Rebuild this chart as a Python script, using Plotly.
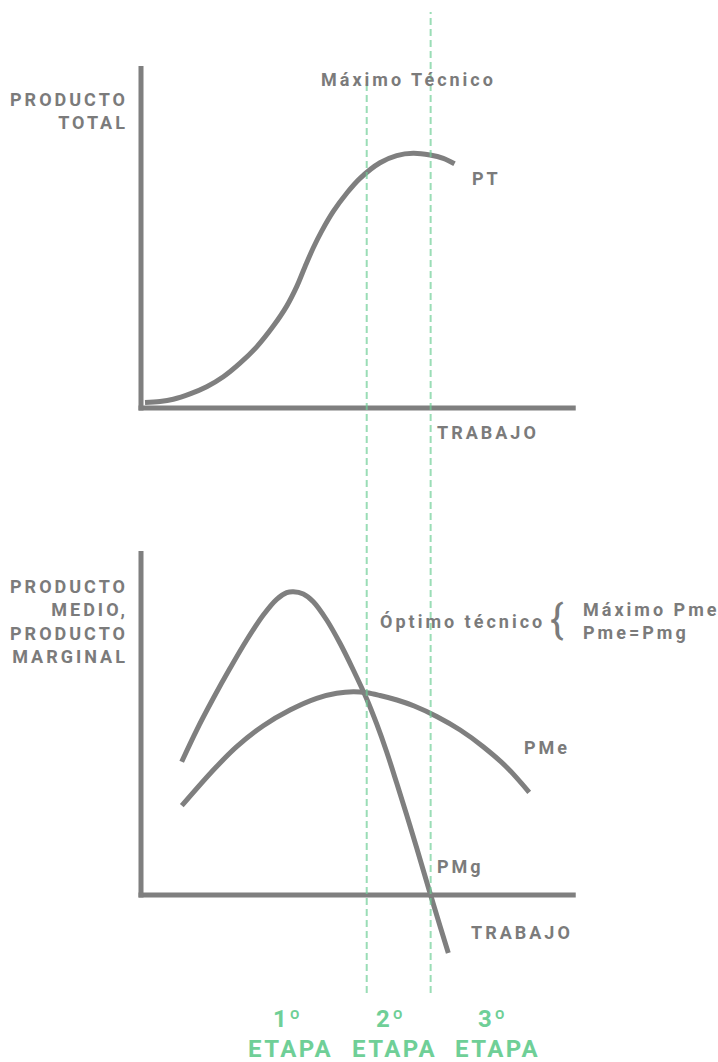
import plotly.graph_objects as go

# ---------------- data (labor units on x, product units on y) ----------------
pt_trabajo = [0.063, 0.532, 0.948, 1.471, 1.993, 2.513, 3.035, 3.558, 4.077, 4.496,
              4.809, 5.069, 5.329, 5.591, 5.954, 6.374, 6.790, 7.416, 7.938, 8.457,
              8.980, 9.396, 9.747]
pt_producto = [0.21, 0.25, 0.34, 0.55, 0.83, 1.22, 1.75, 2.39, 3.20, 3.98,
               4.74, 5.52, 6.26, 6.91, 7.68, 8.39, 8.97, 9.58, 9.86, 9.95,
               9.88, 9.75, 9.54]

pmg_trabajo = [1.211, 1.680, 2.200, 2.722, 3.245, 3.764, 4.183, 4.496, 4.703, 5.016,
               5.329, 5.748, 6.164, 6.580, 7.000, 7.312, 7.625, 7.938, 8.251, 8.564,
               8.980, 9.293, 9.553]
pmg_valor = [5.207, 6.445, 7.684, 8.855, 9.961, 10.938, 11.551, 11.809, 11.848, 11.758,
             11.457, 10.742, 9.832, 8.789, 7.656, 6.680, 5.586, 4.375, 3.125, 1.836,
             0.078, -1.211, -2.266]

pme_trabajo = [1.214, 2.253, 2.932, 3.764, 4.599, 5.435, 6.061, 6.580, 7.000, 7.416,
               7.947, 8.486, 9.205, 9.925, 10.645, 11.364, 12.084]
pme_valor = [3.488, 4.949, 5.793, 6.613, 7.227, 7.684, 7.879, 7.941, 7.902, 7.793,
             7.617, 7.383, 6.965, 6.445, 5.793, 5.012, 4.012]

etapa_limites = [7.0, 9.0]          # labor where stage 1|2 and 2|3 meet
etapa_labels = ["1º", "2º", "3º"]

x_axis_end = 13.54
y_top_axis_end = 13.36
y_bottom_axis_end = 13.44

# ---------------- layout helpers ----------------
W, H = 718, 1062
PX_PER_L = 31.96
X0_PX = 143.0
PX_PER_Y = 25.6
TOP_BASE_PX = 408.0
BOT_BASE_PX = 895.0

GRAY = "#7f7f7f"
TXT = "#7b7b7b"
GREEN = "#6fcf97"
DASH = "rgba(111,207,151,0.7)"


def px(x):
    return x / W


def py(y):
    return 1 - y / H


def ls(t, s=3.0):
    return f'<span style="letter-spacing:{s}px">{t}</span>'


fig = go.Figure()

line_style = dict(color=GRAY, width=5)
for xs, ys, ax in [(pt_trabajo, pt_producto, "y"),
                   (pmg_trabajo, pmg_valor, "y2"),
                   (pme_trabajo, pme_valor, "y2")]:
    fig.add_trace(go.Scatter(x=xs, y=ys, mode="lines",
                             line=dict(line_style, shape="spline", smoothing=1.0),
                             yaxis=ax, hoverinfo="skip"))

shapes = []
x_left = (138.5 - X0_PX) / PX_PER_L
x_vert = (141.0 - X0_PX) / PX_PER_L
for yr, ytop in [("y", y_top_axis_end), ("y2", y_bottom_axis_end)]:
    shapes.append(dict(type="line", xref="x", yref=yr, x0=x_left, x1=x_axis_end,
                       y0=0, y1=0, line=dict(color=GRAY, width=5)))
    shapes.append(dict(type="line", xref="x", yref=yr, x0=x_vert, x1=x_vert,
                       y0=-0.1, y1=ytop, line=dict(color=GRAY, width=5)))
# stage boundaries
for xv, top in zip(etapa_limites, [80, 12]):
    shapes.append(dict(type="line", xref="x", yref="paper", x0=xv, x1=xv,
                       y0=py(993), y1=py(top), layer="above",
                       line=dict(color=DASH, width=2, dash="7px,4px")))

font = dict(family="Roboto", size=18, color=TXT, weight=700)
ann = []


def add(text, x, y, xanchor="center", align="center", f=None):
    ann.append(dict(text=text, x=px(x), y=py(y), xref="paper", yref="paper",
                    showarrow=False, xanchor=xanchor, yanchor="middle",
                    align=align, font=f or font))


add(ls("PRODUCTO") + "<br>" + ls("TOTAL"), 130, 111, xanchor="right", align="right")
add(ls("Máximo Técnico"), 409, 79)
add(ls("PT"), 486, 179)
add(ls("TRABAJO"), 488, 433)
add(ls("PRODUCTO") + "<br>" + ls("MEDIO,") + "<br>" + ls("PRODUCTO") + "<br>" + ls("MARGINAL"),
    130, 621, xanchor="right", align="right")
add(ls("Óptimo técnico"), 462, 621)
add("{", 557, 619, f=dict(family="Roboto", size=40, color=TXT, weight=400))
add(ls("Máximo Pme") + "<br>" + ls("Pme=Pmg"), 581, 621, xanchor="left", align="left")
add(ls("PMe"), 547, 747)
add(ls("PMg"), 460, 866)
add(ls("TRABAJO"), 522, 932)

gfont = dict(family="Roboto", size=24, color=GREEN, weight=700)
for lab, cx in zip(etapa_labels, [288, 391, 493]):
    add(ls(lab, 2.4), cx, 1019, f=gfont)
for cx in [290, 394, 497]:
    add(ls("ETAPA", 2.4), cx, 1049, f=gfont)

fig.update_layout(
    width=W, height=H,
    margin=dict(l=0, r=0, t=0, b=0),
    paper_bgcolor="white", plot_bgcolor="white",
    showlegend=False,
    xaxis=dict(visible=False, range=[(0 - X0_PX) / PX_PER_L, (W - X0_PX) / PX_PER_L],
               fixedrange=True),
    yaxis=dict(visible=False, range=[(TOP_BASE_PX - H) / PX_PER_Y, TOP_BASE_PX / PX_PER_Y],
               fixedrange=True),
    yaxis2=dict(visible=False, overlaying="y",
                range=[(BOT_BASE_PX - H) / PX_PER_Y, BOT_BASE_PX / PX_PER_Y],
                fixedrange=True),
    shapes=shapes,
    annotations=ann,
)

fig.write_html("out.html", config={"displayModeBar": False},
               post_script="document.body.style.margin='0';document.body.style.overflow='hidden';")
